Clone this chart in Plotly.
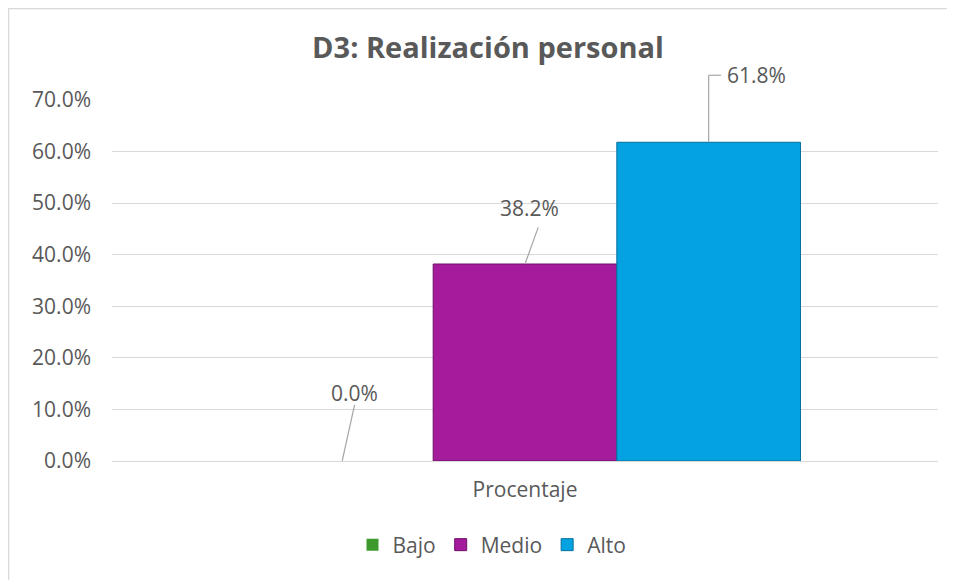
import plotly.graph_objects as go

categories = ["Procentaje"]
series_names = ["Bajo", "Medio", "Alto"]
series_values = [0.0, 0.382, 0.618]
series_colors = ["#3C9A2C", "#A41B9C", "#05A2E2"]
line_colors = ["#2A6E1E", "#6E1068", "#03709E"]
y_tick_vals = [0.0, 0.1, 0.2, 0.3, 0.4, 0.5, 0.6, 0.7]

FONT = "Open Sans"
GREY = "#595959"
FS = 21
Y_MAX = 0.7
OFF = 8  # page body margin

W, H = 955 - OFF, 580 - OFF
PL, PR, PT, PB = 112, 938, 100, 461  # plot area in page pixels
ml = PL - OFF
mr = W - (PR - OFF)
mt = PT - OFF
mb = H - (PB - OFF)
pw = PR - PL
ph = PB - PT

fig = go.Figure()
for name, val, col, lc in zip(series_names, series_values, series_colors, line_colors):
    fig.add_trace(go.Bar(
        name=name, x=categories, y=[val],
        marker=dict(color=col, line=dict(color=lc, width=1 if val > 0 else 0)),
        hoverinfo="skip",
    ))

group_w = 1 - 0.333
bar_w = group_w / 3
centres = [-bar_w, 0.0, bar_w]

LC = dict(color="#A6A6A6", width=1.2)
shapes = []
annotations = []
# Bajo
v, c = series_values[0], centres[0]
shapes.append(dict(type="line", xref="x", yref="paper",
                   x0=c + 0.001, y0=v / Y_MAX, x1=c + 0.016, y1=(v + 0.109) / Y_MAX, line=LC))
annotations.append(dict(xref="x", yref="paper", x=c + 0.016, y=(v + 0.132) / Y_MAX,
                        xanchor="center", yanchor="middle",
                        text=f"{v*100:.1f}%", showarrow=False))
# Medio
v, c = series_values[1], centres[1]
shapes.append(dict(type="line", xref="x", yref="paper",
                   x0=c, y0=v / Y_MAX, x1=c + 0.016, y1=(v + 0.071) / Y_MAX, line=LC))
annotations.append(dict(xref="x", yref="paper", x=c + 0.006, y=(v + 0.109) / Y_MAX,
                        xanchor="center", yanchor="middle",
                        text=f"{v*100:.1f}%", showarrow=False))
# Alto (elbow)
v, c = series_values[2], centres[2]
shapes.append(dict(type="line", xref="x", yref="paper",
                   x0=c, y0=v / Y_MAX, x1=c, y1=(v + 0.130) / Y_MAX, line=LC))
shapes.append(dict(type="line", xref="x", yref="paper",
                   x0=c, y0=(v + 0.130) / Y_MAX, x1=c + 0.015, y1=(v + 0.130) / Y_MAX, line=LC))
annotations.append(dict(xref="x", yref="paper", x=c + 0.020, y=(v + 0.130) / Y_MAX,
                        xanchor="left", yanchor="middle",
                        text=f"{v*100:.1f}%", showarrow=False))

# outer chart border (page px -> paper)
def px_x(p):
    return (p - PL) / pw

def px_y(p):
    return (PB - p) / ph

shapes.append(dict(type="rect", xref="paper", yref="paper",
                   x0=px_x(8.5), y0=px_y(600), x1=px_x(975), y1=px_y(8.5),
                   line=dict(color="#D9D9D9", width=1.5), fillcolor="rgba(0,0,0,0)",
                   layer="below"))

fig.update_layout(
    width=W, height=H,
    margin=dict(l=ml, r=mr, t=mt, b=mb, pad=0),
    paper_bgcolor="white", plot_bgcolor="white",
    barmode="group", bargap=0.333, bargroupgap=0,
    font=dict(family=FONT, size=FS, color=GREY),
    title=dict(text="<b>D3: Realización personal</b>", xref="container",
               x=(488 - OFF) / W, xanchor="center",
               y=1 - (48 - OFF) / H, yanchor="middle",
               font=dict(family=FONT, size=29, color=GREY)),
    xaxis=dict(type="category", showgrid=False, showline=True, linecolor="#D9D9D9",
               linewidth=1, ticks="", tickfont=dict(size=FS, color=GREY),
               ticklabelstandoff=10,
               range=[-0.5, 0.5], fixedrange=True),
    yaxis=dict(range=[0, Y_MAX], tickvals=y_tick_vals, tickformat=".1%",
               showgrid=True, gridcolor="#D9D9D9", gridwidth=1,
               zeroline=False, showline=False, ticks="",
               ticklabelstandoff=20, tickfont=dict(size=FS, color=GREY)),
    legend=dict(orientation="h", x=px_x(492), xanchor="center", y=px_y(545), yanchor="middle",
                font=dict(size=FS, color=GREY), itemwidth=30, traceorder="normal"),
    shapes=shapes,
    annotations=[dict(a, font=dict(size=FS, color=GREY)) for a in annotations],
)

fig.write_html("out.html")
